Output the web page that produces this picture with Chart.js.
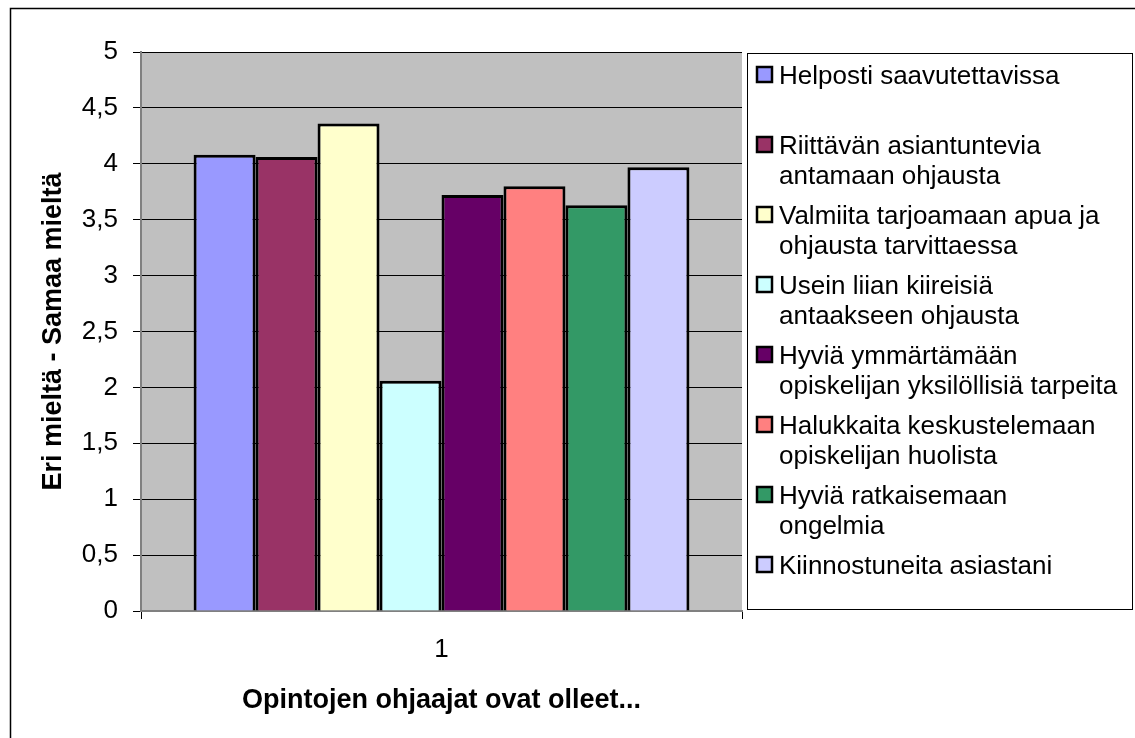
<!DOCTYPE html>
<html lang="fi">
<head>
<meta charset="UTF-8">
<title>Opintojen ohjaajat ovat olleet...</title>
<style>
    body { margin: 0; background: #fff; }
    canvas { display: block; }
</style>
</head>
<body>
<canvas id="chart" width="1135" height="738"></canvas>

<script src="https://cdn.jsdelivr.net/npm/chart.js"></script>
<script>
// data
const categories = ['1'];
const seriesNames = [
    'Helposti saavutettavissa',
    'Riittävän asiantuntevia antamaan ohjausta',
    'Valmiita tarjoamaan apua ja ohjausta tarvittaessa',
    'Usein liian kiireisiä antaakseen ohjausta',
    'Hyviä ymmärtämään opiskelijan yksilöllisiä tarpeita',
    'Halukkaita keskustelemaan opiskelijan huolista',
    'Hyviä ratkaisemaan ongelmia',
    'Kiinnostuneita asiastani'
];
const seriesValues = [4.08, 4.06, 4.36, 2.06, 3.72, 3.80, 3.63, 3.97];
// legend text, broken the way the original wraps it
const legendLines = [
    ['Helposti saavutettavissa'],
    ['Riittävän asiantuntevia', 'antamaan ohjausta'],
    ['Valmiita tarjoamaan apua ja', 'ohjausta tarvittaessa'],
    ['Usein liian kiireisiä', 'antaakseen ohjausta'],
    ['Hyviä ymmärtämään', 'opiskelijan yksilöllisiä tarpeita'],
    ['Halukkaita keskustelemaan', 'opiskelijan huolista'],
    ['Hyviä ratkaisemaan', 'ongelmia'],
    ['Kiinnostuneita asiastani']
];
const yTitle = 'Eri mieltä - Samaa mieltä';
const xTitle = 'Opintojen ohjaajat ovat olleet...';

const colors = ['#9999FF', '#993366', '#FFFFCC', '#CCFFFF', '#660066', '#FF8080', '#339966', '#CCCCFF'];
const FONT = '"Liberation Sans", Arial, sans-serif';

Chart.defaults.font.family = FONT;
Chart.defaults.color = '#000';

// white page, outer frame and grey plot area
const frame = {
    id: 'frame',
    beforeDraw(chart) {
        const ctx = chart.ctx;
        const a = chart.chartArea;
        ctx.save();
        ctx.fillStyle = '#fff';
        ctx.fillRect(0, 0, chart.width, chart.height);
        ctx.strokeStyle = '#000';
        ctx.lineWidth = 1.5;
        ctx.beginPath();
        ctx.moveTo(10.5, chart.height);
        ctx.lineTo(10.5, 8.5);
        ctx.lineTo(chart.width, 8.5);
        ctx.stroke();
        ctx.fillStyle = '#C0C0C0';
        ctx.fillRect(a.left, a.top, a.right - a.left, a.bottom - a.top);
        ctx.restore();
    }
};

// boxed legend on the right with wrapped labels
const sideLegend = {
    id: 'sideLegend',
    afterDraw(chart) {
        const ctx = chart.ctx;
        ctx.save();
        ctx.strokeStyle = '#000';
        ctx.lineWidth = 1;
        ctx.strokeRect(747.5, 53.5, 385, 556);
        ctx.font = '26px ' + FONT;
        ctx.textAlign = 'left';
        ctx.textBaseline = 'alphabetic';
        chart.data.datasets.forEach((ds, i) => {
            const base = 84 + 70 * i;
            ctx.fillStyle = ds.backgroundColor;
            ctx.fillRect(757, base - 17, 15, 15);
            ctx.lineWidth = 2.5;
            ctx.strokeStyle = '#000';
            ctx.strokeRect(757, base - 17, 15, 15);
            ctx.fillStyle = '#000';
            legendLines[i].forEach((line, j) => {
                ctx.fillText(line, 779, base + 30 * j);
            });
        });
        ctx.restore();
    }
};

new Chart(document.getElementById('chart'), {
    type: 'bar',
    data: {
        labels: categories,
        datasets: seriesNames.map((name, i) => ({
            label: name,
            data: [seriesValues[i]],
            backgroundColor: colors[i],
            borderColor: '#000',
            borderWidth: 3,
            categoryPercentage: 0.825,
            barPercentage: 1
        }))
    },
    options: {
        responsive: false,
        animation: false,
        layout: { padding: { left: 0, top: 52, right: 393, bottom: 0 } },
        plugins: {
            legend: { display: false },
            tooltip: { enabled: false }
        },
        scales: {
            x: {
                afterFit(scale) { scale.height = 127; },
                grid: { display: true, drawOnChartArea: false, tickLength: 8, color: '#000' },
                border: { color: '#808080', width: 2 },
                ticks: { font: { size: 26 }, padding: 15 },
                title: {
                    display: true,
                    text: xTitle,
                    font: { size: 27, weight: 'bold' },
                    padding: { top: 0, bottom: 21 }
                }
            },
            y: {
                min: 0,
                max: 5,
                afterFit(scale) { scale.width = 141; },
                grid: { color: '#000', lineWidth: 1, tickLength: 8 },
                border: { color: '#808080', width: 2 },
                ticks: {
                    stepSize: 0.5,
                    font: { size: 26 },
                    padding: 15,
                    callback: v => String(v).replace('.', ',')
                },
                title: {
                    display: true,
                    text: yTitle,
                    font: { size: 27, weight: 'bold' },
                    padding: { top: 37, bottom: 0 }
                }
            }
        }
    },
    plugins: [frame, sideLegend]
});
</script>
</body>
</html>
